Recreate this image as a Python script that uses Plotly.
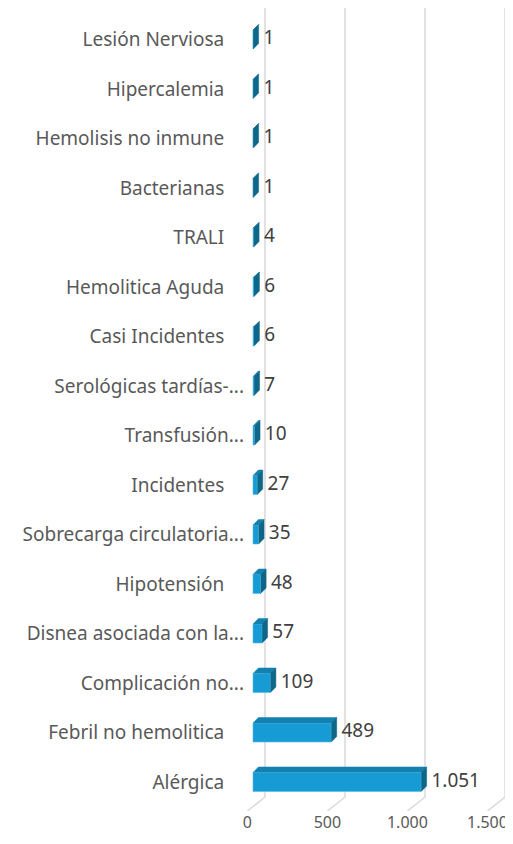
"""Horizontal 3D-style bar chart of transfusion adverse events."""

import plotly.graph_objects as go

# categories from top to bottom as shown in the chart
categories = [
    "Lesión Nerviosa",
    "Hipercalemia",
    "Hemolisis no inmune",
    "Bacterianas",
    "TRALI",
    "Hemolitica Aguda",
    "Casi Incidentes",
    "Serológicas tardías-...",
    "Transfusión...",
    "Incidentes",
    "Sobrecarga circulatoria...",
    "Hipotensión",
    "Disnea asociada con la...",
    "Complicación no...",
    "Febril no hemolitica",
    "Alérgica",
]
values = [1, 1, 1, 1, 4, 6, 6, 7, 10, 27, 35, 48, 57, 109, 489, 1051]
x_ticks = [0, 500, 1000, 1500]

FRONT = "#169BD5"
SIDE = "#0E6788"
TOP = "#1381B0"
GRID = "#D9D9D9"
LABEL_FONT = "Noto Sans"

# bottom-up order so the first category sits on top
cats = categories[::-1]
vals = values[::-1]
idx = list(range(len(cats)))

x_range = [-50, 1606]
y_range = [-0.586, 15.637]
bar_h = 0.385
depth_x = 34      # depth of bars in x units
depth_y = 0.111   # depth of bars in category units
wall_shift = 75   # back wall offset
floor_shift = -35  # front floor edge offset
back_floor = -0.303


def fmt(v):
    return f"{v:,}".replace(",", ".")


def tick_label(name):
    return name if name.endswith("...") else name + "\u00a0" * 4


fig = go.Figure()

# back-wall gridlines with the perspective floor lines
gx, gy = [], []
for t in x_ticks:
    gx += [t + wall_shift, t + wall_shift, t + floor_shift, None]
    gy += [y_range[1], back_floor, y_range[0], None]
fig.add_trace(
    go.Scatter(x=gx, y=gy, mode="lines", line={"color": GRID, "width": 1.5},
               hoverinfo="skip", showlegend=False)
)

# front faces
fig.add_trace(
    go.Bar(
        x=vals, y=idx, orientation="h", width=bar_h,
        marker={"color": FRONT, "line": {"color": "#55BDE8", "width": 0.6}},
        xaxis="x2", yaxis="y2", showlegend=False,
    )
)

# side and top faces
sx, sy, tx, ty = [], [], [], []
for i, v in zip(idx, vals):
    lo, hi = i - bar_h / 2, i + bar_h / 2
    sx += [v, v + depth_x, v + depth_x, v, None]
    sy += [lo, lo + depth_y, hi + depth_y, hi, None]
    tx += [0, depth_x, v + depth_x, v, None]
    ty += [hi, hi + depth_y, hi + depth_y, hi, None]
fig.add_trace(
    go.Scatter(x=tx, y=ty, mode="lines", fill="toself", fillcolor=TOP,
               line={"color": TOP, "width": 0.5}, xaxis="x2", yaxis="y2",
               hoverinfo="skip", showlegend=False)
)
fig.add_trace(
    go.Scatter(x=sx, y=sy, mode="lines", fill="toself", fillcolor=SIDE,
               line={"color": SIDE, "width": 0.5}, xaxis="x2", yaxis="y2",
               hoverinfo="skip", showlegend=False)
)

# value labels
fig.add_trace(
    go.Scatter(
        x=[v + depth_x + 30 for v in vals], y=idx, mode="text",
        text=[fmt(v) for v in vals], textposition="middle right",
        textfont={"family": LABEL_FONT, "size": 19, "color": "#404040"},
        xaxis="x2", yaxis="y2", hoverinfo="skip", showlegend=False,
    )
)

# the page body adds an 8px offset, so the figure is 8px smaller each way
fig.update_layout(
    width=505,
    height=836,
    margin={"l": 237, "r": 3, "t": 0, "b": 33},
    plot_bgcolor="white",
    paper_bgcolor="white",
    xaxis={
        "range": x_range,
        "automargin": False,
        "showgrid": False,
        "zeroline": False,
        "showline": False,
        "tickvals": [t + floor_shift for t in x_ticks],
        "ticktext": [fmt(t) for t in x_ticks],
        "ticks": "",
        "ticklabelstandoff": 0,
        "tickfont": {"family": LABEL_FONT, "size": 16, "color": "#595959"},
    },
    yaxis={
        "range": y_range,
        "automargin": False,
        "showgrid": False,
        "zeroline": False,
        "showline": False,
        "tickvals": idx,
        "ticktext": [tick_label(c) for c in cats],
        "ticks": "",
        "ticklabelstandoff": 0,
        "tickfont": {"family": LABEL_FONT, "size": 19, "color": "#595959"},
    },
    xaxis2={"range": x_range, "overlaying": "x", "visible": False},
    yaxis2={"range": y_range, "overlaying": "y", "visible": False},
)

fig.write_html("out.html")
